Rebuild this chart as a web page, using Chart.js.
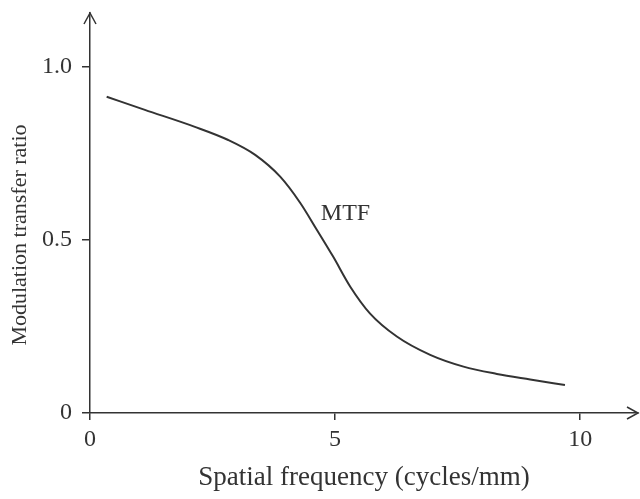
<!DOCTYPE html>
<html>
<head>
<meta charset="utf-8">
<script src="https://cdn.jsdelivr.net/npm/chart.js@4.4.1/dist/chart.umd.min.js"></script>
<style>
  html, body { margin: 0; padding: 0; background: #fff; }
  #wrap { width: 640px; height: 499px; position: relative; }
</style>
</head>
<body>
<div id="wrap"><canvas id="mtfChart"></canvas></div>
<script>
// values
const freq = [0.34, 1.12, 2.14, 2.82, 3.37, 3.88, 4.29, 4.63, 4.96, 5.31, 5.71, 6.26, 6.94, 7.62, 8.30, 8.98, 9.69];
const mtf = [0.914, 0.876, 0.827, 0.789, 0.746, 0.683, 0.607, 0.529, 0.452, 0.365, 0.288, 0.221, 0.168, 0.134, 0.113, 0.097, 0.081];
const xTicks = [0, 5, 10];
const yTicks = [0, 0.5, 1.0];
const yTickLabels = ['0', '0.5', '1.0'];
const xTitle = 'Spatial frequency (cycles/mm)';
const yTitle = 'Modulation transfer ratio';
const curveLabel = 'MTF';

const INK = '#333333';
const FONT = '"Liberation Serif", "DejaVu Serif", serif';

// arrow heads on the axes, y title and the MTF label
const axisExtras = {
  id: 'axisExtras',
  afterDraw(chart) {
    const ctx = chart.ctx;
    const a = chart.chartArea;
    const xs = chart.scales.x, ys = chart.scales.y;
    ctx.save();
    ctx.strokeStyle = INK;
    ctx.lineWidth = 1.5;
    ctx.beginPath();
    ctx.moveTo(a.left - 6, a.top + 11);
    ctx.lineTo(a.left, a.top);
    ctx.lineTo(a.left + 6, a.top + 11);
    ctx.moveTo(a.right - 11, a.bottom - 6);
    ctx.lineTo(a.right, a.bottom);
    ctx.lineTo(a.right - 11, a.bottom + 6);
    ctx.stroke();

    ctx.fillStyle = INK;
    ctx.textBaseline = 'middle';

    // y title centred on the 0..1 range
    ctx.save();
    ctx.translate(20, (ys.getPixelForValue(0) + ys.getPixelForValue(1)) / 2 - 5);
    ctx.rotate(-Math.PI / 2);
    ctx.textAlign = 'center';
    ctx.font = '22px ' + FONT;
    ctx.fillText(yTitle, 0, 0);
    ctx.restore();

    ctx.font = '24px ' + FONT;
    ctx.textAlign = 'left';
    ctx.fillText(curveLabel, xs.getPixelForValue(4.71), ys.getPixelForValue(0.575));
    ctx.restore();
  }
};

let mtfChart = new Chart(document.getElementById('mtfChart'), {
  type: 'line',
  data: {
    datasets: [{
      label: curveLabel,
      data: freq.map((f, i) => ({ x: f, y: mtf[i] })),
      borderColor: INK,
      borderWidth: 2,
      pointRadius: 0,
      fill: false,
      cubicInterpolationMode: 'monotone'
    }]
  },
  options: {
    responsive: true,
    maintainAspectRatio: false,
    animation: false,
    layout: { padding: { top: 13, right: 2, left: 0, bottom: 0 } },
    plugins: { legend: { display: false }, tooltip: { enabled: false } },
    scales: {
      x: {
        type: 'linear',
        min: 0,
        max: 11.18,
        afterBuildTicks: s => { s.ticks = xTicks.map(v => ({ value: v })); },
        afterFit: s => { s.height = 86; s.paddingLeft = 0; s.paddingRight = 0; },
        grid: { drawOnChartArea: false, drawTicks: true, tickLength: 7, color: INK, lineWidth: 1.5 },
        border: { display: true, color: INK, width: 1.5 },
        ticks: { color: INK, font: { family: FONT, size: 24 }, padding: 5, maxRotation: 0 },
        title: {
          display: true,
          text: xTitle,
          color: INK,
          font: { family: FONT, size: 27 },
          padding: { top: 4, bottom: 5 }
        }
      },
      y: {
        type: 'linear',
        min: 0,
        max: 1.156,
        afterBuildTicks: s => { s.ticks = yTicks.map(v => ({ value: v })); },
        afterFit: s => { s.width = 90; s.paddingTop = 0; s.paddingBottom = 0; },
        grid: { drawOnChartArea: false, drawTicks: true, tickLength: 8, color: INK, lineWidth: 1.5 },
        border: { display: true, color: INK, width: 1.5 },
        ticks: {
          color: INK,
          font: { family: FONT, size: 24 },
          padding: 10,
          callback: (v) => yTickLabels[yTicks.indexOf(v)]
        }
      }
    }
  },
  plugins: [axisExtras]
});
</script>
</body>
</html>
